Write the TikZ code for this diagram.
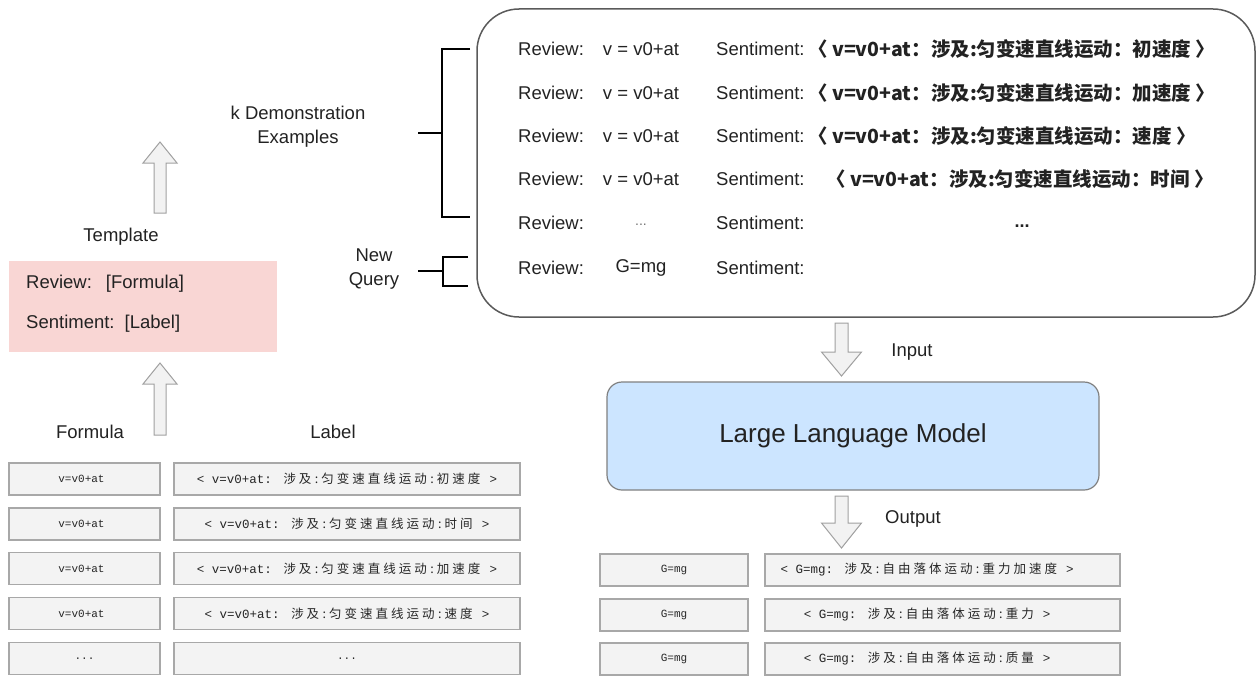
\documentclass[tikz,border=0pt]{standalone}
\usepackage{fontspec}
\setmainfont{Liberation Sans}
\newfontfamily\cjk{Noto Sans CJK SC}
\newfontfamily\tablemono{Liberation Mono}

\definecolor{inkc}{HTML}{222222}
\definecolor{cellfill}{HTML}{F3F3F3}
\definecolor{cellline}{HTML}{A8A8A8}
\definecolor{arrowfill}{HTML}{F2F2F2}
\definecolor{arrowline}{HTML}{A0A0A0}
\definecolor{tplfill}{HTML}{F9D6D4}
\definecolor{llmfill}{HTML}{CCE5FF}
\definecolor{llmline}{HTML}{808080}
\definecolor{boxline}{HTML}{5A5A5A}

% each CJK character of a table entry sits in a fixed-width slot
\newdimen\cjkpitch \cjkpitch=15.5pt
\def\spreadchars#1{\ifx\relax#1\else
  \ifx:#1\makebox[7pt]{:}\else\makebox[\cjkpitch]{#1}\fi
  \expandafter\spreadchars\fi}
% table entry: < formula: CJK text >
\newcommand\tabentry[2]{{\tablemono <\space#1:\space}{\cjk\spreadchars #2\relax}{\tablemono\space>}}
% hollow block arrow: x, tip y, head-base y, tail y, shaft half-width, head half-width
\newcommand\hollowarrow[6]{%
  \draw[blockarrow] ({#1-#5},#4) -- ({#1-#5},#3) -- ({#1-#6},#3) -- (#1,#2)
    -- ({#1+#6},#3) -- ({#1+#5},#3) -- ({#1+#5},#4) -- cycle;}

\begin{document}
\begin{tikzpicture}[x=1pt,y=-1pt,
  every node/.style={text=inkc, inner sep=0pt},
  lbl/.style={font=\fontsize{18.5}{22}\selectfont},
  sent/.style={font=\cjk\bfseries\fontsize{19.5}{23}\selectfont, anchor=west},
  cell/.style={draw=cellline, fill=cellfill, line width=1.5pt, minimum height=32pt},
  monotext/.style={font=\tablemono\fontsize{11}{13}\selectfont, text=black!85},
  cjkcell/.style={font=\cjk\fontsize{12.5}{14}\selectfont, text=black!85},
  blockarrow/.style={draw=arrowline, fill=arrowfill, line width=1pt, line join=miter},
  bracket/.style={draw=black, line width=2pt},
]
\useasboundingbox (0,0) rectangle (1257,677);

% ---------- prompt box ----------
\draw[boxline, line width=1.5pt, rounded corners=42pt] (477,9) rectangle (1255,317);

\foreach \i/\y in {1/49,2/93,3/136,4/179,5/223,6/268}{
  \node[lbl, anchor=west] (rv\i) at (518,\y) {Review:};
  \node[lbl, anchor=west] (st\i) at (716,\y) {Sentiment:};
}
\foreach \i/\y in {1/49,2/93,3/136,4/179}{
  \node[lbl] (va\i) at (641,\y) {v = v0+at};
}
\node[lbl, text=black!55, font=\fontsize{14}{16}\selectfont] (va5) at (641,225) {...};
\node[lbl] (va6) at (641,268) {G=mg};

\node[sent] (lb1) at (808,49) {〈 v=v0+at：涉及:匀变速直线运动：初速度 〉};
\node[sent] (lb2) at (808,93) {〈 v=v0+at：涉及:匀变速直线运动：加速度 〉};
\node[sent] (lb3) at (808,136) {〈 v=v0+at：涉及:匀变速直线运动：速度 〉};
\node[sent] (lb4) at (826,179) {〈 v=v0+at：涉及:匀变速直线运动：时间 〉};
\node[lbl, font=\bfseries\fontsize{18}{20}\selectfont] (lb5) at (1022,226) {...};

% ---------- brackets ----------
\node[lbl, align=center] (kdemo) at (298,127) {k Demonstration\\[2pt]Examples};
\node[lbl, align=center] (newq) at (374,269) {New\\[2pt]Query};
\coordinate (b1t) at (470,49);  \coordinate (b1b) at (470,217);
\coordinate (b1m) at (442,133); \coordinate (b1s) at (418,133);
\draw[bracket] (b1t) -- (442,49) -- (442,217) -- (b1b);
\draw[bracket] (b1s) -- (b1m);
\coordinate (b2t) at (468,257); \coordinate (b2b) at (468,286);
\coordinate (b2m) at (443,271); \coordinate (b2s) at (418,271);
\draw[bracket] (b2t) -- (443,257) -- (443,286) -- (b2b);
\draw[bracket] (b2s) -- (b2m);

% ---------- template ----------
\node[lbl] (tpltitle) at (121,237) {Template};
\node[fill=tplfill, minimum width=268pt, minimum height=91pt] (tpl) at (143,306.5) {};
\node[lbl, anchor=west] (tplr) at (26,284) {Review:\hspace{14pt}[Formula]};
\node[lbl, anchor=west] (tpls) at (26,324) {Sentiment:\hspace{10pt}[Label]};

\hollowarrow{160}{142}{163}{213}{6}{17}
\hollowarrow{160}{363}{384}{435}{6}{17}

% ---------- data table ----------
\node[lbl] (hform) at (90,432) {Formula};
\node[lbl] (hlab) at (333,432) {Label};
\foreach \i/\y in {1/479,2/524,3/568.5,4/613.5,5/658.5}{
  \node[cell, minimum width=151pt] (fc\i) at (84.5,\y) {};
  \node[cell, minimum width=346pt] (lc\i) at (347,\y) {};
}
\foreach \i in {1,2,3,4}{
  \node[monotext] (ft\i) at ([xshift=-3pt]fc\i.center) {v=v0+at};
}
\node[monotext] (ft5) at (fc5) {...};
\node[monotext] (lt5) at (lc5) {...};
\node[cjkcell] (lt1) at (lc1) {\tabentry{v=v0+at}{涉及:匀变速直线运动:初速度}};
\node[cjkcell] (lt2) at (lc2) {\tabentry{v=v0+at}{涉及:匀变速直线运动:时间}};
\node[cjkcell] (lt3) at (lc3) {\tabentry{v=v0+at}{涉及:匀变速直线运动:加速度}};
\node[cjkcell] (lt4) at (lc4) {\tabentry{v=v0+at}{涉及:匀变速直线运动:速度}};

% ---------- model ----------
\hollowarrow{841.5}{376}{352}{323}{6.5}{20}
\node[lbl] (inp) at (912,352) {Input};
\node[draw=llmline, fill=llmfill, line width=1.2pt, rounded corners=15pt,
      minimum width=492pt, minimum height=108pt,
      font=\fontsize{26}{30}\selectfont] (llm) at (853,436) {Large Language Model};
\hollowarrow{841.5}{548}{523}{496}{6.5}{20}
\node[lbl] (outp) at (913,519) {Output};

% ---------- output table ----------
\foreach \i/\y in {1/570,2/615,3/659}{
  \node[cell, minimum width=148pt] (oc\i) at (674,\y) {};
  \node[cell, minimum width=355pt] (od\i) at (942.5,\y) {};
  \node[monotext] (ot\i) at (oc\i) {G=mg};
}
\node[cjkcell] (ol1) at (927,570) {\tabentry{G=mg}{涉及:自由落体运动:重力加速度}};
\node[cjkcell] (ol2) at (927,615) {\tabentry{G=mg}{涉及:自由落体运动:重力}};
\node[cjkcell] (ol3) at (927,659) {\tabentry{G=mg}{涉及:自由落体运动:质量}};
\end{tikzpicture}
\end{document}
